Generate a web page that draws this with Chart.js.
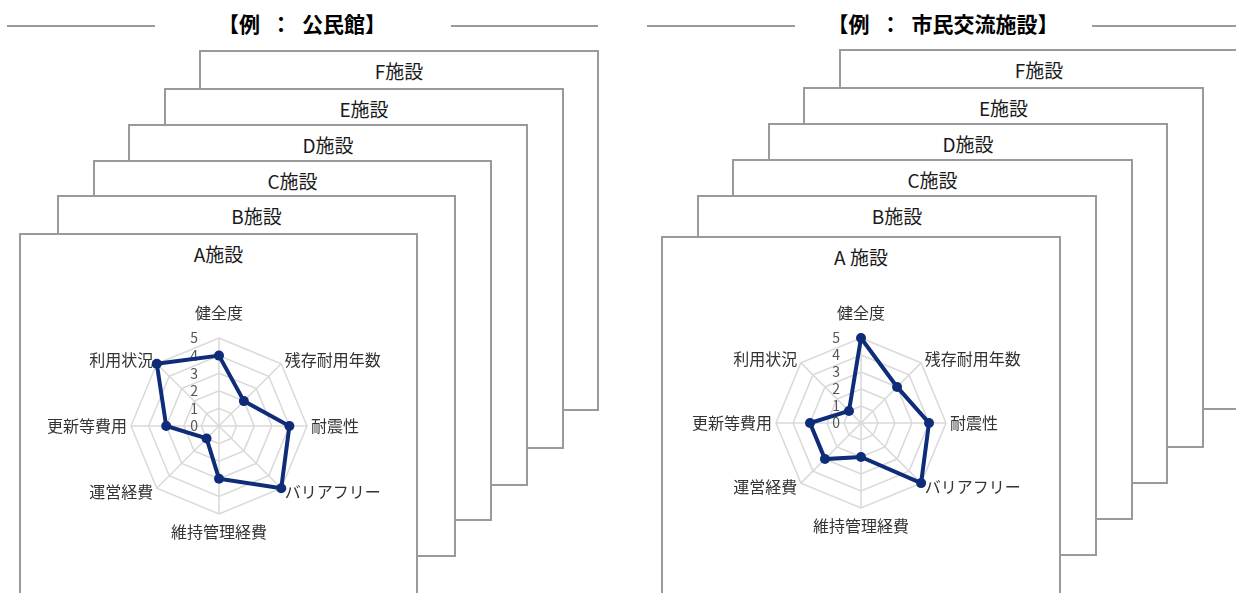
<!DOCTYPE html>
<html lang="ja">
<head>
<meta charset="utf-8">
<script src="https://cdn.jsdelivr.net/npm/chart.js"></script>
<style>
html,body{margin:0;padding:0;background:#fff;}
body{width:1236px;height:593px;overflow:hidden;position:relative;font-family:"Noto Sans CJK JP","Noto Sans",sans-serif;}
.card{position:absolute;box-sizing:border-box;border:2px solid #9a9a9a;background:#fff;}
.card .t{position:absolute;left:0;right:0;top:7px;line-height:24px;text-align:center;font-size:19px;color:#1a1a1a;white-space:pre;}
.hline{position:absolute;height:2px;background:#9a9a9a;}
.hdr{position:absolute;width:320px;top:8px;line-height:30px;text-align:center;font-size:21px;font-weight:bold;color:#000;white-space:pre;}
canvas{position:absolute;z-index:50;}
</style>
</head>
<body>
<script>
// ---- data ----
const categories = ['健全度','残存耐用年数','耐震性','バリアフリー','維持管理経費','運営経費','更新等費用','利用状況'];
const kominkanValues = [4, 2, 4, 5, 3, 1, 3, 5];
const shiminValues = [5, 3, 4, 5, 2, 3, 3, 1];
const tickValues = [0, 1, 2, 3, 4, 5];
const tickLabels = ['0', '1', '2', '3', '4', '5'];
const kominkanCards = ['A施設', 'B施設', 'C施設', 'D施設', 'E施設', 'F施設'];
const shiminCards = ['A 施設', 'B施設', 'C施設', 'D施設', 'E施設', 'F施設'];
const groupTitles = ['【例\u2002：\u2002公民館】', '【例\u2002：\u2002市民交流施設】'];

// ---- layout (positions only) ----
const groups = [
  {
    title: groupTitles[0], titleX: 302, lines: [[7,155],[451,598]],
    cardNames: kominkanCards,
    boxes: [[19,233,417,640],[57,195,455,556],[93,160,491,520],[128,124,527,485],[164,88,563,448],[199,50,598,410]],
    canvas: {left: 21, top: 235, w: 394, h: 358, pad: {left:110, top:103, right:108, bottom:79}},
    values: kominkanValues
  },
  {
    title: groupTitles[1], titleX: 943, lines: [[647,795],[1092,1236]],
    cardNames: shiminCards,
    boxes: [[661,236,1060,640],[697,195,1096,555],[732,159,1132,519],[768,123,1167,483],[803,87,1203,447],[839,49,1238,409]],
    canvas: {left: 663, top: 238, w: 395, h: 355, pad: {left:113, top:100, right:112, bottom:85}},
    values: shiminValues
  }
];

const labelPlugin = {
  id: 'customLabels',
  beforeDatasetsDraw(chart) {
    const s = chart.scales.r;
    const ctx = chart.ctx;
    const R = s.drawingArea;
    ctx.save();
    // tick labels
    ctx.font = '14px "Noto Sans CJK JP"';
    ctx.fillStyle = '#555555';
    ctx.textAlign = 'right';
    ctx.textBaseline = 'middle';
    tickValues.forEach((v, i) => {
      const d = s.getDistanceFromCenterForValue(v);
      ctx.fillText(tickLabels[i], s.xCenter - 21, s.yCenter - d);
    });
    // point labels
    ctx.font = '16px "Noto Sans CJK JP"';
    ctx.fillStyle = '#333333';
    chart.data.labels.forEach((lab, i) => {
      const p0 = s.getPointPosition(i, R);
      const dx = p0.x - s.xCenter, dy = p0.y - s.yCenter;
      let extra, align;
      if (Math.abs(dx) < 1) {
        align = 'center';
        extra = dy < 0 ? 25 : 18;
      } else {
        align = dx > 0 ? 'left' : 'right';
        extra = Math.abs(dy) < 1 ? 4 : 5;
      }
      const p = s.getPointPosition(i, R + extra);
      ctx.textAlign = align;
      ctx.fillText(lab, p.x, p.y);
    });
    ctx.restore();
  }
};

groups.forEach(g => {
  // header
  const h = document.createElement('div');
  h.className = 'hdr';
  h.style.left = (g.titleX - 160) + 'px';
  h.textContent = g.title;
  document.body.appendChild(h);
  g.lines.forEach(([a, b]) => {
    const l = document.createElement('div');
    l.className = 'hline';
    l.style.left = a + 'px';
    l.style.top = '25px';
    l.style.width = (b - a) + 'px';
    document.body.appendChild(l);
  });
  // cards (A in front)
  g.boxes.forEach(([L, T, R, B], i) => {
    const c = document.createElement('div');
    c.className = 'card';
    c.style.left = L + 'px';
    c.style.top = T + 'px';
    c.style.width = (R - L + 1) + 'px';
    c.style.height = (B - T + 1) + 'px';
    c.style.zIndex = String(20 - i);
    const t = document.createElement('div');
    t.className = 't';
    t.textContent = g.cardNames[i];
    c.appendChild(t);
    document.body.appendChild(c);
  });
  // radar
  const cv = document.createElement('canvas');
  cv.width = g.canvas.w;
  cv.height = g.canvas.h;
  cv.style.left = g.canvas.left + 'px';
  cv.style.top = g.canvas.top + 'px';
  cv.style.width = g.canvas.w + 'px';
  cv.style.height = g.canvas.h + 'px';
  document.body.appendChild(cv);
  new Chart(cv, {
    type: 'radar',
    data: {
      labels: categories,
      datasets: [{
        data: g.values,
        borderColor: '#0e2c78',
        backgroundColor: '#0e2c78',
        borderWidth: 4,
        pointRadius: 5,
        pointBackgroundColor: '#0e2c78',
        pointBorderWidth: 0,
        fill: false,
        tension: 0,
        clip: false
      }]
    },
    options: {
      responsive: false,
      animation: false,
      devicePixelRatio: 1,
      layout: {padding: g.canvas.pad},
      plugins: {legend: {display: false}, tooltip: {enabled: false}},
      scales: {
        r: {
          min: 0, max: 5,
          ticks: {stepSize: 1, display: false},
          pointLabels: {display: false},
          grid: {circular: false, color: '#d9d9d9', lineWidth: 1.5},
          angleLines: {color: '#d9d9d9', lineWidth: 1.5}
        }
      }
    },
    plugins: [labelPlugin]
  });
});
</script>
</body>
</html>
